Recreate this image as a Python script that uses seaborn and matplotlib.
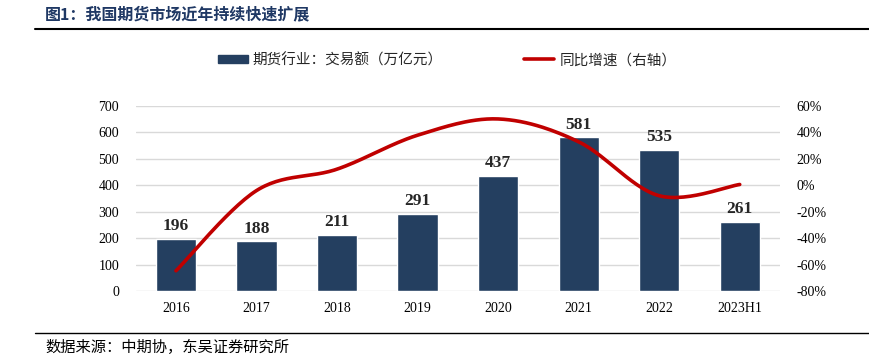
import numpy as np
import pandas as pd
import seaborn as sns
import matplotlib.pyplot as plt
from matplotlib.lines import Line2D
from matplotlib.patches import Patch

years = ["2016", "2017", "2018", "2019", "2020", "2021", "2022", "2023H1"]
volume = [196, 188, 211, 291, 437, 581, 535, 261]  # 万亿元
growth = [-64.7, -4.0, 12.2, 37.9, 50.2, 32.9, -7.9, 0.6]  # %

bar_color = "#243F60"
line_color = "#C00000"
grid_color = "#D9D9D9"

sns.set_theme(style="white")
plt.rcParams['font.family'] = ['Liberation Serif', 'Noto Sans CJK SC']
cjk = ['Noto Sans CJK SC', 'DejaVu Sans']

fig = plt.figure(figsize=(8.69, 3.59), dpi=100)
ax = fig.add_axes([135.7 / 869, 1 - 291 / 359, (780 - 135.7) / 869, (291 - 106) / 359])

df = pd.DataFrame({"year": years, "volume": volume, "growth": growth})
sns.barplot(data=df, x="year", y="volume", color=bar_color, width=0.5,
            saturation=1, ax=ax, zorder=2)
ax.set_xlim(-0.5, len(years) - 0.5)
ax.set_ylim(0, 700)
ax.set_yticks(range(0, 701, 100))
ax.yaxis.grid(True, color=grid_color, lw=1)
ax.set_axisbelow(True)
ax.set_xlabel("")
ax.set_ylabel("")
for s in ax.spines.values():
    s.set_visible(False)
ax.tick_params(axis="both", length=0, labelsize=10, colors="black")
ax.tick_params(axis="y", pad=12)
ax.tick_params(axis="x", pad=8)

for i, v in enumerate(volume):
    ax.text(i, v + 18, str(v), ha="center", va="bottom", fontsize=12.5,
            fontweight="bold")

# right axis: smoothed growth curve (Excel-style smoothing)
ax2 = ax.twinx()
ax2.set_ylim(-80, 60)
ax2.set_yticks(range(-80, 61, 20))
ax2.set_yticklabels([f"{t}%" for t in range(-80, 61, 20)])
for s in ax2.spines.values():
    s.set_visible(False)
ax2.tick_params(axis="y", length=0, labelsize=10, pad=12, colors="black")
ax2.grid(False)

pts = np.column_stack([np.arange(len(growth)), growth]).astype(float)
xs, ys = [], []
t = np.linspace(0, 1, 30)
for i in range(len(pts) - 1):
    p0 = pts[max(i - 1, 0)]
    p1 = pts[i]
    p2 = pts[i + 1]
    p3 = pts[min(i + 2, len(pts) - 1)]
    c1 = p1 + (p2 - p0) / 6
    c2 = p2 - (p3 - p1) / 6
    seg = ((1 - t) ** 3)[:, None] * p1 + (3 * (1 - t) ** 2 * t)[:, None] * c1 \
        + (3 * (1 - t) * t ** 2)[:, None] * c2 + (t ** 3)[:, None] * p2
    xs.extend(seg[:, 0])
    ys.extend(seg[:, 1])
ax2.plot(xs, ys, color=line_color, lw=2.6, solid_capstyle="round", zorder=3)

# legend
handles = [Patch(color=bar_color), Line2D([], [], color=line_color, lw=2.6)]
labels = ["期货行业：交易额（万亿元）", "同比增速（右轴）"]
leg = fig.legend(handles, labels, loc="center", bbox_to_anchor=(447 / 869, 1 - 60 / 359),
                 ncol=2, frameon=False, prop={"family": cjk, "size": 10.5},
                 handlelength=2.05, handleheight=0.55, columnspacing=5.6,
                 handletextpad=0.35)

# title and source
fig.text(45 / 869, 1 - 14 / 359, "图1：我国期货市场近年持续快速扩展", family=cjk,
         fontsize=11.5, fontweight="bold", color="#1F3864", va="center")
fig.add_artist(Line2D([35 / 869, 1], [1 - 29 / 359] * 2, color="black", lw=1.5))
fig.add_artist(Line2D([35 / 869, 1], [1 - 333 / 359] * 2, color="black", lw=1))
fig.text(45 / 869, 1 - 347 / 359, "数据来源：中期协，东吴证券研究所", family=cjk,
         fontsize=11, color="black", va="center")

fig.savefig("out.png", dpi=100)
